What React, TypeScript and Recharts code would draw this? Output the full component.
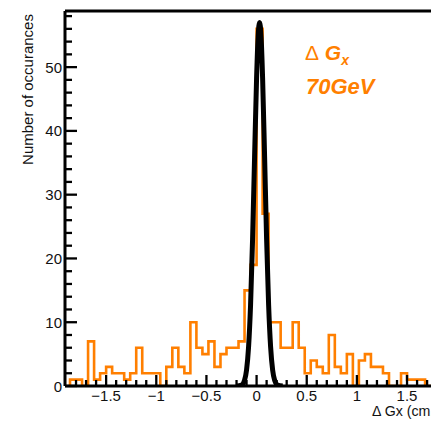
import React from "react"
import {
  ComposedChart,
  Line,
  XAxis,
  YAxis,
  ReferenceLine,
} from "recharts"

// left edges of the histogram bins (cm), 0.06 wide
const binEdges: number[] = [
  -1.86, -1.8, -1.74, -1.68, -1.62, -1.56, -1.5, -1.44, -1.38, -1.32,
  -1.26, -1.2, -1.14, -1.08, -1.02, -0.96, -0.9, -0.84, -0.78, -0.72,
  -0.66, -0.6, -0.54, -0.48, -0.42, -0.36, -0.3, -0.24, -0.18, -0.12,
  -0.06, 0, 0.06, 0.12, 0.18, 0.24, 0.3, 0.36, 0.42, 0.48,
  0.54, 0.6, 0.66, 0.72, 0.78, 0.84, 0.9, 0.96, 1.02, 1.08,
  1.14, 1.2, 1.26, 1.32, 1.38, 1.44, 1.5, 1.56, 1.62, 1.68,
  1.74, 1.8,
]

// occurrences per bin
const counts: number[] = [
  1, 1, 0, 7, 1, 2, 3, 2, 2, 1,
  2, 6, 2, 2, 2, 0, 3, 6, 3, 2,
  10, 6, 5, 7, 3, 5, 6, 6, 7, 15,
  19, 56, 27, 10, 10, 6, 6, 10, 6, 2,
  4, 3, 2, 8, 3, 2, 5, 0, 4, 5,
  3, 3, 2, 0, 0, 2, 1, 1, 1, 0,
  0,
]

// gaussian fit curve
const fitX: number[] = [
  -0.2, -0.15, -0.12, -0.1, -0.08, -0.06, -0.04, -0.02, 0, 0.015,
  0.03, 0.045, 0.06, 0.08, 0.1, 0.12, 0.14, 0.16, 0.18, 0.21, 0.26,
]
const fitY: number[] = [
  0, 0.14, 0.9, 2.5, 6.1, 12.7, 23, 35.9, 48.3, 54.7,
  57, 54.7, 48.3, 35.9, 23, 12.7, 6.1, 2.5, 0.9, 0.14, 0,
]

const xMajor: number[] = [-1.5, -1, -0.5, 0, 0.5, 1, 1.5]
const yMajor: number[] = [0, 10, 20, 30, 40, 50]

const X_MIN = -1.91
const X_MAX = 1.8186
const Y_MAX = 58.8
const ORANGE = "#ff7f00"
const FONT = "'Liberation Sans', Arial, Helvetica, sans-serif"

// minor ticks every 0.1 on x, every 2 on y
const xTicks: number[] = []
for (let i = -18; i <= 18; i++) xTicks.push(Math.round(i) / 10)
const yTicks: number[] = []
for (let i = 0; i <= 58; i += 2) yTicks.push(i)

const histData = [
  { x: binEdges[0], y: 0 },
  ...counts.map((c, i) => ({ x: binEdges[i], y: c })),
  { x: binEdges[binEdges.length - 1], y: counts[counts.length - 1] },
]

const fitData = fitX.map((x, i) => ({ x, y: fitY[i] }))

const isMajor = (v: number, list: number[]) =>
  list.some((m) => Math.abs(m - v) < 1e-6)

const fmt = (v: number) => (v < 0 ? "\u2212" + String(-v) : String(v))

type TickProps = {
  x?: number
  y?: number
  payload?: { value: number }
}

const XTick: React.FC<TickProps> = ({ x = 0, y = 0, payload }) => {
  const v = payload?.value ?? 0
  const major = isMajor(v, xMajor)
  return (
    <g>
      <line
        x1={x}
        y1={y}
        x2={x}
        y2={y - (major ? 11 : 6)}
        stroke="#000"
        strokeWidth={2.3}
      />
      {major && (
        <text
          x={x}
          y={y + 15}
          textAnchor="middle"
          fontSize={15}
          fontFamily={FONT}
          fill="#111"
        >
          {fmt(v)}
        </text>
      )}
    </g>
  )
}

const YTick: React.FC<TickProps> = ({ x = 0, y = 0, payload }) => {
  const v = payload?.value ?? 0
  const major = isMajor(v, yMajor)
  return (
    <g>
      <line
        x1={x}
        y1={y}
        x2={x + (major ? 12 : 7)}
        y2={y}
        stroke="#000"
        strokeWidth={2.3}
      />
      {major && (
        <text
          x={x - 3}
          y={y + 5.5}
          textAnchor="end"
          fontSize={15}
          fontFamily={FONT}
          fill="#111"
        >
          {v}
        </text>
      )}
    </g>
  )
}

export default function App() {
  return (
    <ComposedChart
      width={431}
      height={413}
      margin={{ top: 3, right: 0, left: 0, bottom: 0 }}
    >
      <Line
        data={histData}
        dataKey="y"
        type="stepAfter"
        stroke={ORANGE}
        strokeWidth={2.6}
        dot={false}
        isAnimationActive={false}
      />
      <Line
        data={fitData}
        dataKey="y"
        type="monotone"
        stroke="#000"
        strokeWidth={5}
        dot={false}
        isAnimationActive={false}
      />
      <ReferenceLine y={Y_MAX} stroke="#000" strokeWidth={3} />
      <XAxis
        type="number"
        dataKey="x"
        domain={[X_MIN, X_MAX]}
        allowDataOverflow
        ticks={xTicks}
        interval={0}
        tick={<XTick />}
        tickLine={false}
        tickSize={0}
        tickMargin={0}
        height={35}
        axisLine={{ stroke: "#000", strokeWidth: 3 }}
      />
      <YAxis
        type="number"
        domain={[0, Y_MAX]}
        allowDataOverflow
        ticks={yTicks}
        interval={0}
        tick={<YTick />}
        tickLine={false}
        tickSize={0}
        tickMargin={0}
        width={57}
        axisLine={{ stroke: "#000", strokeWidth: 3 }}
      />
      <text
        x={25}
        y={81.5}
        transform="rotate(-90, 25, 81.5)"
        textAnchor="middle"
        fontSize={15}
        fontFamily={FONT}
        fill="#111"
      >
        Number of occurances
      </text>
      <text x={364} y={408} fontSize={14.2} fontFamily={FONT} fill="#111">
        Δ Gx (cm.)
      </text>
      <text
        x={297}
        y={52}
        fontSize={21}
        fontFamily={FONT}
        fill={ORANGE}
        fontWeight="bold"
        fontStyle="italic"
      >
        <tspan fontWeight="normal" fontStyle="normal">
          Δ
        </tspan>
        <tspan> G</tspan>
        <tspan dy={5} fontSize={14}>
          x
        </tspan>
      </text>
      <text
        x={298}
        y={86}
        fontSize={22}
        fontFamily={FONT}
        fill={ORANGE}
        fontWeight="bold"
        fontStyle="italic"
      >
        70GeV
      </text>
    </ComposedChart>
  )
}
